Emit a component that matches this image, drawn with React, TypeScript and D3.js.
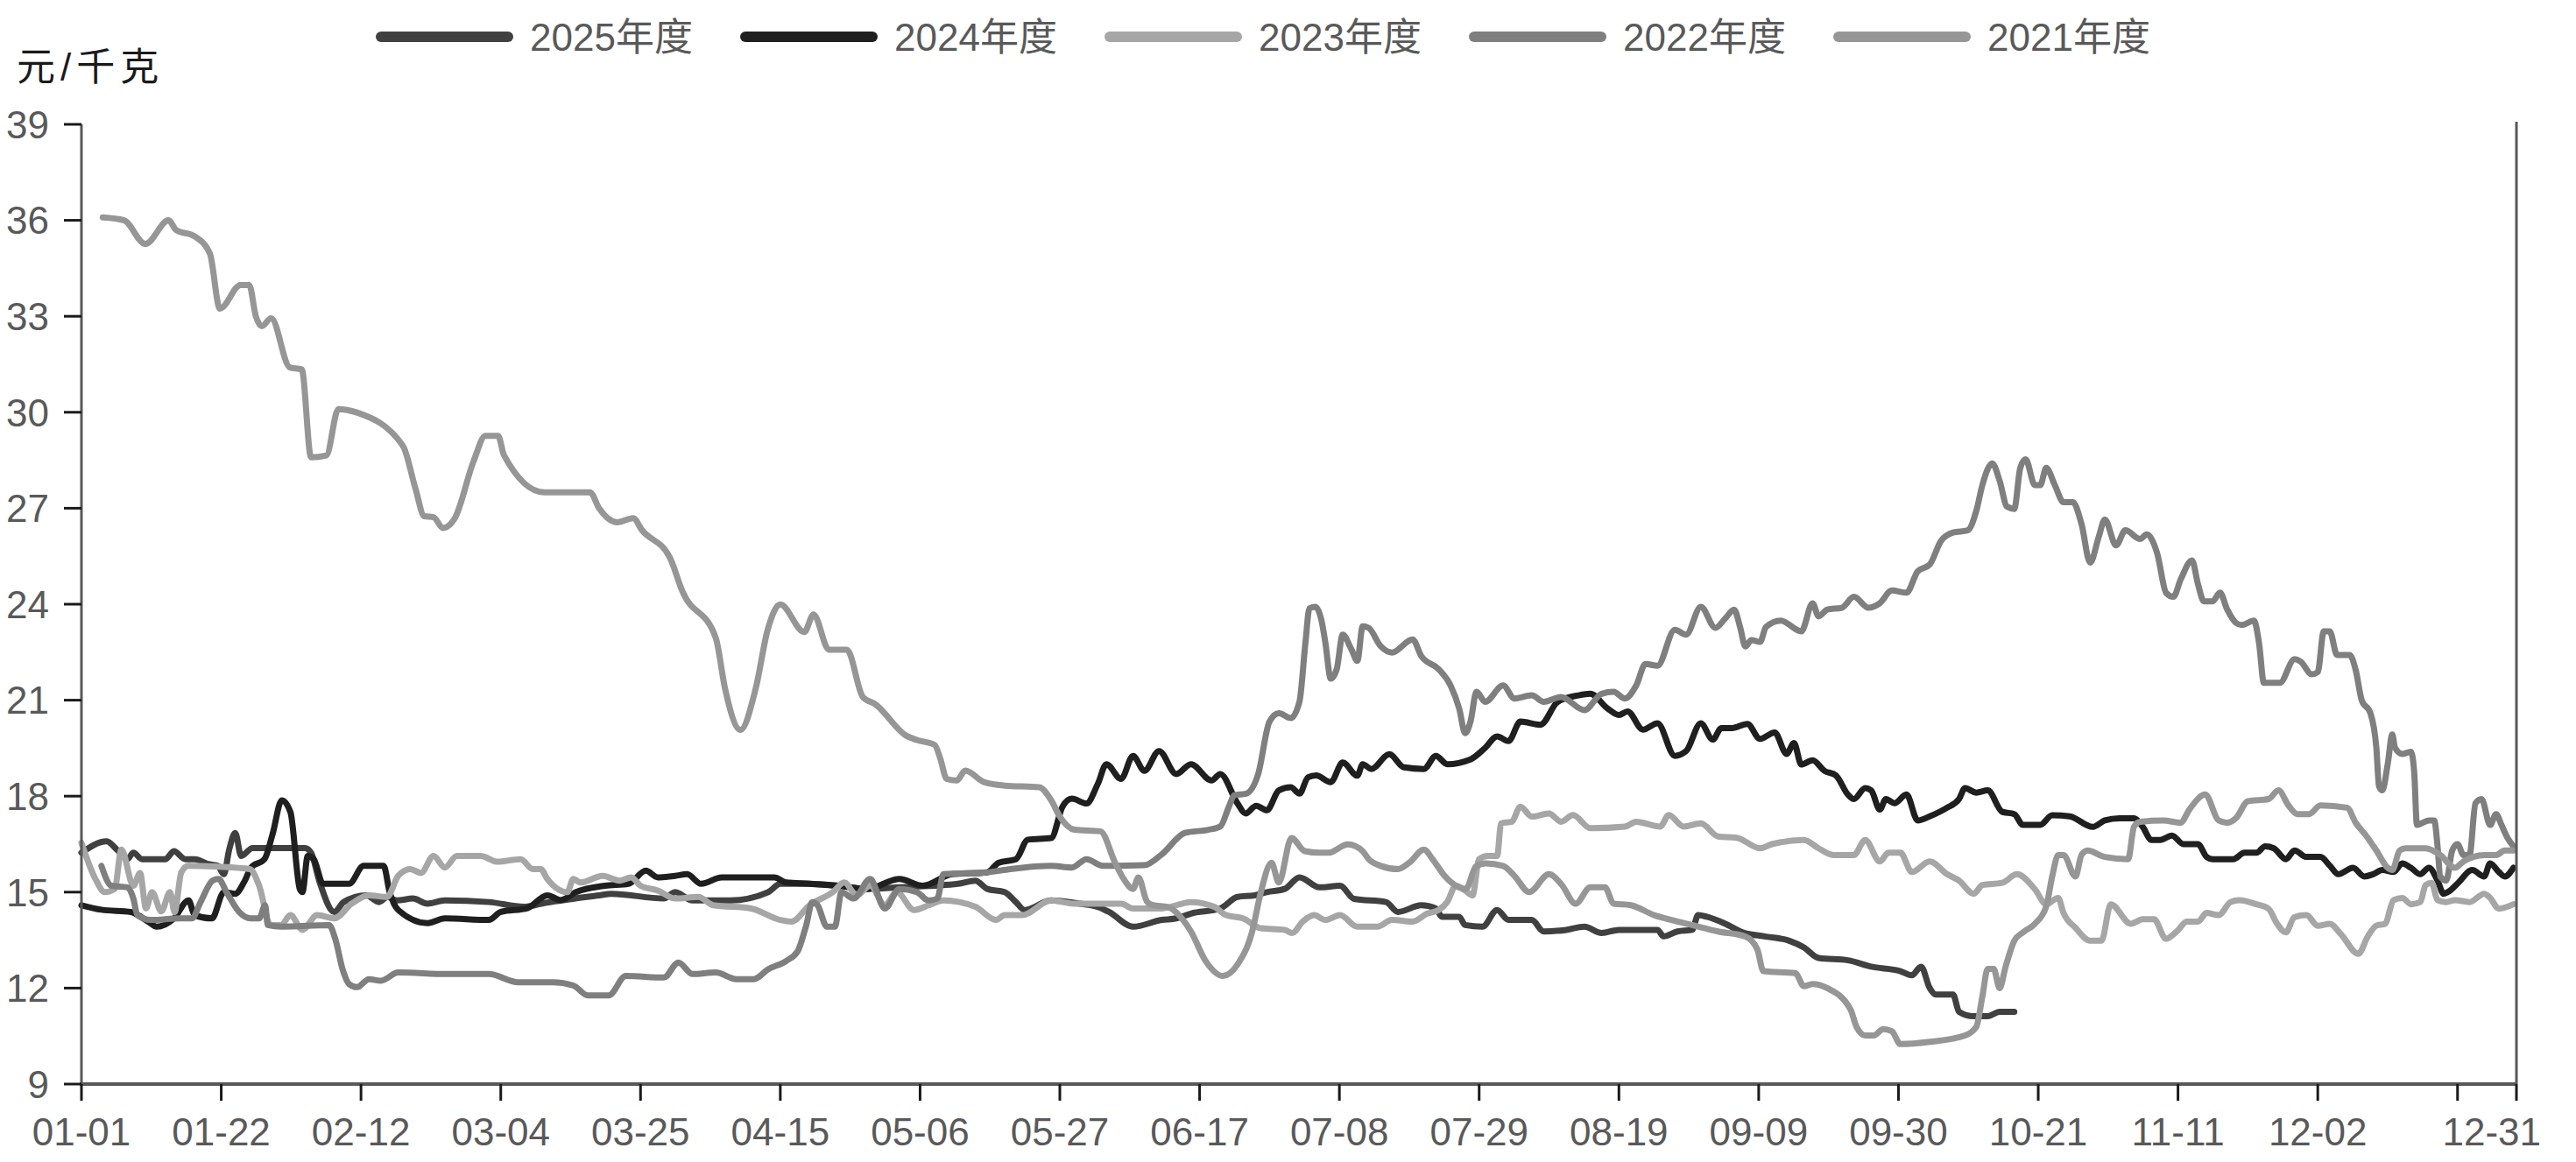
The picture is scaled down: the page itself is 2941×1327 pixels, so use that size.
import React from "react";
import * as d3 from "d3";

const W = 2941;
const H = 1327;

const seriesNames = ["2025年度", "2024年度", "2023年度", "2022年度", "2021年度"];
const seriesColors = ["#404040", "#1f1f1f", "#a6a6a6", "#7f7f7f", "#969696"];

const yTicks = [9, 12, 15, 18, 21, 24, 27, 30, 33, 36, 39];
const yTitle = "元/千克";

// [day of year (0 = 01-01), price]
const s2025: [number, number][] = [[0,16.23],[3.8,16.59],[5.3,16.33],[6.9,16.03],[7.8,16.23],[9.1,16.03],[12.6,16.03],[13.9,16.28],[15.6,16.03],[17,16.03],[19.2,15.87],[20.5,15.82],[21.4,15.56],[22.2,16.33],[23.1,16.85],[24,16.13],[25.7,16.38],[33.6,16.38],[34.5,16.23],[35.8,15.3],[38,14.38],[39.4,14.69],[42.8,14.9],[44.7,14.69],[46,14.85],[47.4,14.74],[49.8,14.8],[52,14.64],[54.6,14.74],[61.2,14.69],[66.5,14.54],[69.1,14.64],[77.8,14.9],[79.6,14.95],[87.5,14.8],[89.2,15.0],[91.8,14.74],[97.5,14.74],[103.2,15.0],[105,15.26],[109.4,15.26],[113.7,15.2],[118,15.1],[122.9,15.15],[131.7,15.26],[134.3,15.36],[136.1,15.1],[138.7,15.0],[140.4,14.69],[141.7,14.44],[145.7,14.74],[150,14.64],[152.7,14.54],[154.4,14.38],[158,13.92],[162.3,14.13],[164.5,14.18],[166.7,14.33],[171.1,14.49],[173.7,14.85],[176.3,14.9],[178.1,15.0],[180.8,15.1],[183,15.46],[186,15.15],[189.1,15.2],[191.2,14.79],[196,14.69],[197.8,14.38],[201.3,14.59],[203.5,14.49],[204.4,14.23],[207,14.23],[207.9,13.97],[210.5,13.92],[212.7,14.44],[214.4,14.13],[217.9,14.13],[219.7,13.77],[223.1,13.82],[225.8,13.92],[228.4,13.72],[231,13.82],[236.8,13.82],[237.7,13.62],[239.8,13.77],[242,13.82],[242.9,14.28],[244.2,14.23],[247,14.01],[249.6,13.74],[253.1,13.61],[256.6,13.48],[258.8,13.27],[261,12.94],[265.4,12.87],[268.9,12.67],[273.3,12.53],[275,12.4],[276.4,12.67],[277.7,12.0],[278.6,11.8],[281.2,11.8],[282.1,11.26],[284.3,11.12],[286.4,11.12],[288.2,11.26],[290.4,11.26]];

const s2024: [number, number][] = [[0,14.59],[3,14.45],[7.4,14.38],[10,14.08],[11.3,13.92],[13.9,14.18],[16.1,14.74],[17,14.28],[19.6,14.18],[21.4,15.0],[23.1,14.95],[24.4,15.3],[25.5,15.77],[27.5,16.03],[28.7,16.8],[30.1,17.87],[31.4,17.5],[32.8,15.1],[33.2,15.0],[34,16.13],[34.9,16.03],[36.3,15.26],[40.2,15.26],[42.4,15.82],[45.4,15.82],[46.3,15.0],[47.6,14.44],[52,14.03],[54.6,14.18],[61.2,14.13],[63,14.38],[67,14.5],[70,14.9],[72,14.75],[74.3,15.0],[78.7,15.2],[82.2,15.26],[84.8,15.67],[86.6,15.46],[89.2,15.51],[91,15.56],[93.1,15.26],[96.2,15.46],[104.1,15.46],[105.9,15.3],[109.4,15.26],[113.7,15.2],[118,15.1],[122.9,15.41],[126.4,15.2],[130.8,15.56],[136.1,15.62],[137.8,15.92],[140.4,16.03],[142.2,16.64],[145.7,16.69],[147.4,17.67],[148.8,17.92],[151,17.77],[152.7,18.38],[154,19.0],[156.2,18.54],[158,19.26],[159.7,18.79],[161.9,19.41],[164.5,18.69],[166.7,19.0],[169.8,18.49],[171.1,18.69],[173.7,17.77],[174.9,17.46],[176.5,17.7],[178.1,17.56],[179.9,18.18],[181.7,18.28],[183,18.08],[184.3,18.59],[185.5,18.65],[187.7,18.44],[189.5,19.05],[191.7,18.64],[192.5,19.0],[193.8,18.85],[196.5,19.31],[198.7,18.9],[201.7,18.85],[203.5,19.26],[205.2,19.0],[208.7,19.15],[210.9,19.51],[212.7,19.87],[214.4,19.72],[216.2,20.33],[219.2,20.23],[221.8,20.95],[224.9,21.15],[226.7,21.2],[229.3,20.74],[231,20.54],[232.3,20.65],[234.6,20.08],[236.8,20.28],[239.4,19.26],[241.1,19.41],[243.3,20.28],[245.1,19.77],[246.4,20.13],[248,20.13],[250.3,20.26],[252.2,19.79],[254.4,19.99],[256.2,19.32],[257.3,19.66],[258.4,18.99],[260.1,19.12],[261.9,18.79],[263.6,18.65],[265.4,18.05],[266.3,17.91],[268,18.25],[268.9,18.18],[270.2,17.58],[271.1,17.91],[272.4,17.78],[274.2,18.05],[275.9,17.24],[277.7,17.37],[280.3,17.64],[282.1,17.91],[283,18.25],[284.7,18.11],[286.4,18.18],[288.6,17.51],[290.4,17.44],[291.7,17.1],[294.3,17.1],[296.1,17.4],[298.7,17.37],[302.2,17.04],[304,17.24],[306.2,17.31],[308.4,17.31],[309.7,17.04],[311,16.63],[312.3,16.63],[314.1,16.77],[315.8,16.5],[318,16.5],[319.3,16.1],[320.2,16.03],[323.3,16.03],[325,16.23],[326.8,16.23],[328.1,16.43],[329.4,16.37],[331.2,16.03],[332.5,16.3],[334.3,16.1],[336.4,16.1],[337.8,15.83],[339.1,15.56],[341.3,15.76],[343,15.49],[344.3,15.56],[345.7,15.69],[347.4,15.63],[348.7,15.9],[350,15.76],[351.4,15.56],[352.7,15.76],[354,15.36],[354.9,14.95],[355.7,15.02],[357.1,15.29],[359.2,15.69],[361,15.49],[361.9,15.9],[363.2,15.63],[364.1,15.49],[365.4,15.76]];

const s2023: [number, number][] = [[0,16.54],[2.1,15.41],[3.5,15.0],[5,15.1],[6,16.33],[7.8,15.2],[8.8,15.6],[9.7,14.49],[10.6,15.0],[12,14.4],[13.3,15.0],[14,14.38],[15,15.62],[16.1,15.82],[20,15.8],[25.3,15.72],[26.7,15.2],[28.4,13.97],[30,13.97],[31.4,14.28],[33.2,13.82],[35.4,14.28],[38,14.18],[40.6,14.64],[43.2,14.9],[45.9,14.85],[47.6,15.51],[49.4,15.72],[51,15.6],[52.9,16.13],[54.6,15.77],[56.4,16.13],[60,16.13],[62.5,15.95],[66,16.03],[67.8,15.72],[69,15.72],[70,15.41],[73,15.0],[73.9,15.41],[75,15.3],[78.3,15.51],[80.9,15.36],[82.6,15.46],[84,15.2],[86.6,15.05],[89.2,14.8],[92.7,14.85],[94.9,14.59],[100.6,14.49],[105,14.13],[106.7,14.08],[109.4,14.59],[112.9,15.0],[114.6,15.3],[116.5,14.9],[118.5,15.2],[120.7,14.6],[122.5,15.0],[125.1,14.44],[127.3,14.59],[129.5,14.74],[134.3,14.54],[137.4,14.13],[138.7,14.28],[141.3,14.28],[145.7,14.74],[149.2,14.64],[156.2,14.64],[158,14.49],[162.3,14.49],[166.7,14.69],[170.2,14.54],[172,14.28],[174.5,14.18],[177.2,13.87],[180.8,13.82],[181.9,13.72],[183.5,14.08],[185.2,14.28],[186.9,14.13],[189.1,14.28],[191.7,13.92],[194.7,13.92],[196.9,14.13],[200,14.08],[202.2,14.33],[203.9,14.44],[205.2,14.69],[206.5,15.2],[207.9,15.05],[209,14.9],[210,16.03],[211.3,16.13],[212.7,16.13],[213.3,17.15],[214.9,17.2],[216.2,17.67],[217.9,17.36],[220.5,17.46],[222.3,17.2],[224.1,17.41],[226.7,17.0],[231.9,17.05],[233.6,17.2],[237.2,17.05],[238.5,17.41],[240.7,17.05],[243.3,17.15],[245.9,16.74],[248.7,16.7],[252.2,16.37],[254,16.5],[258.8,16.63],[261,16.37],[263.2,16.16],[266.3,16.16],[268,16.63],[270.2,15.96],[271.5,16.23],[273.3,16.23],[275,15.63],[277.7,15.96],[280.3,15.56],[282.1,15.36],[284.3,14.95],[285.6,15.22],[288.6,15.29],[290.8,15.56],[293.5,15.09],[295.2,14.62],[297,14.82],[297.8,14.35],[299.6,13.88],[301.8,13.48],[303.5,13.48],[304.9,14.62],[307.9,14.01],[309.7,14.15],[311.4,14.15],[313.2,13.54],[315,13.81],[316.3,14.08],[318,14.08],[319.3,14.35],[321.1,14.28],[322.9,14.69],[324.2,14.75],[326.8,14.62],[328.6,14.48],[329.9,14.01],[331.2,13.74],[332.5,14.22],[334.3,14.28],[336,13.95],[337.8,14.01],[339.5,13.68],[342.1,13.07],[343.5,13.61],[344.8,13.95],[346.1,14.01],[347.4,14.75],[348.7,14.82],[350,14.62],[351.4,14.69],[352.2,15.22],[353.1,15.29],[354,14.75],[355.3,14.69],[356.6,14.75],[358.8,14.69],[361,14.95],[361.9,14.82],[363.2,14.48],[365.4,14.62]];

const s2022: [number, number][] = [[3,15.82],[4.5,15.2],[6.9,15.15],[7.8,14.8],[8.4,14.28],[10.4,14.13],[14.8,14.18],[16.6,14.18],[17.9,14.69],[19.7,15.36],[20.6,15.41],[21.8,15.0],[23.7,14.38],[25.4,14.18],[26.7,14.18],[27.6,14.59],[28,13.97],[30.1,13.92],[37.2,13.97],[38.1,13.56],[39.3,12.54],[40.2,12.13],[41.4,12.03],[43.2,12.28],[45,12.23],[47.6,12.49],[55,12.44],[61.2,12.44],[65.6,12.18],[70.8,12.18],[73.9,12.08],[76.1,11.77],[79.2,11.77],[81.8,12.38],[87.5,12.33],[89.7,12.8],[91.8,12.44],[95.3,12.49],[98.4,12.28],[101,12.28],[103.2,12.59],[105.9,12.85],[107.6,13.15],[108.9,13.97],[109.8,14.69],[110.6,14.59],[112,13.92],[113.2,13.92],[114.2,15.0],[116,14.8],[118.5,15.41],[120.7,14.49],[122.9,15.1],[125.5,15.0],[127.3,14.74],[128.6,14.8],[129.5,15.56],[136.1,15.62],[139.6,15.72],[145.7,15.82],[148.8,15.77],[151,16.03],[153.5,15.82],[159.7,15.84],[162.3,16.18],[165.8,16.85],[169.3,16.95],[171.1,17.05],[172.4,17.67],[173.2,18.03],[175,18.08],[176.8,18.69],[178.5,20.33],[179.9,20.59],[181.7,20.44],[183,20.95],[183.9,22.8],[184.5,23.87],[185.4,23.92],[186.3,23.5],[186.9,22.79],[187.7,21.67],[188.6,21.97],[189.5,23.05],[190.8,22.59],[191.7,22.23],[192.5,23.31],[193.4,23.26],[195.2,22.69],[196.9,22.49],[200,22.9],[201.3,22.38],[203.9,21.97],[205.7,21.46],[207,20.74],[207.9,19.97],[208.7,20.33],[209.6,21.26],[210.9,20.95],[213.6,21.46],[215.3,21.05],[217.9,21.15],[219.7,20.95],[222.3,21.1],[225.8,20.69],[228.4,21.2],[230.2,21.26],[231.9,21.05],[233.6,21.46],[235,22.13],[236.8,22.08],[239.4,23.2],[241.1,23.05],[243.3,23.92],[245.5,23.26],[247,23.56],[248.3,23.83],[249.2,23.29],[250,22.68],[250.9,22.88],[252.2,22.82],[253.1,23.29],[255.3,23.49],[258.4,23.15],[260.1,24.03],[261,23.62],[262.3,23.83],[264.5,23.89],[266.3,24.23],[268.5,23.89],[270.2,24.03],[272,24.43],[274.2,24.36],[275.9,25.03],[277.7,25.24],[279.4,25.98],[281.2,26.24],[283.4,26.31],[284.7,26.92],[285.6,27.72],[287.1,28.4],[288.2,27.86],[289.3,27.05],[290.4,26.98],[291.3,28.26],[292.1,28.53],[293.5,27.72],[294.3,27.72],[295.2,28.26],[296.5,27.72],[297.8,27.19],[299.2,27.19],[300.5,26.51],[301.8,25.3],[303.1,26.11],[304,26.65],[305.7,25.84],[307.1,26.31],[309.3,26.04],[310.3,26.18],[311.9,25.57],[313.2,24.36],[314.3,24.23],[315.4,24.77],[317.1,25.37],[318,24.63],[318.9,24.09],[320.2,24.09],[321.3,24.36],[322.4,23.83],[323.7,23.42],[324.6,23.35],[326.4,23.49],[327.2,22.75],[327.9,21.54],[330.3,21.54],[332.5,22.28],[333.4,22.21],[335.1,21.81],[336,21.88],[336.9,23.15],[337.8,23.15],[338.9,22.41],[340.8,22.41],[341.7,21.94],[342.6,21.0],[343.9,20.6],[344.8,19.52],[345.2,18.31],[345.7,18.18],[346.5,18.99],[347.2,19.93],[347.6,19.52],[348.7,19.32],[350,19.39],[350.5,18.72],[350.9,17.1],[352.7,17.24],[353.5,17.24],[354,16.43],[354.4,15.49],[355.3,15.36],[356.2,16.3],[357,16.5],[357.9,16.16],[358.8,16.16],[359.7,17.78],[360.6,17.91],[361.9,17.1],[362.8,17.44],[363.6,17.1],[364.5,16.7],[365.4,16.43]];

const s2021: [number, number][] = [[3.2,36.09],[6.4,36.0],[9.6,35.26],[13.1,36.0],[14.2,35.7],[17,35.5],[19.3,34.96],[20.8,33.24],[23.9,33.98],[25.2,33.98],[26.2,33.0],[27.1,32.69],[28.5,32.94],[31.3,31.4],[33.1,31.34],[34.5,28.59],[36.8,28.65],[38.6,30.1],[41.4,29.99],[48.3,28.95],[50.2,27.6],[51.5,26.75],[52.9,26.72],[54.3,26.38],[56.1,26.69],[58.9,28.46],[60.7,29.26],[62.6,29.26],[63.5,28.65],[69.5,27.5],[76.4,27.5],[77.8,26.99],[80.5,26.56],[82.9,26.69],[84.2,26.32],[88.4,25.46],[90.3,24.4],[95.3,22.95],[96.7,21.36],[99,20.07],[101.3,21.36],[103.1,23.2],[105,23.99],[108.6,23.13],[110,23.68],[112.3,22.58],[115,22.58],[117.4,21.1],[119.3,20.87],[123.9,19.89],[125.6,19.75],[128.2,19.6],[129,19.2],[130,18.54],[131.5,18.49],[132.8,18.8],[135.6,18.44],[138.7,18.33],[143.9,18.28],[145.7,17.87],[147,17.36],[149.2,16.95],[153.1,16.9],[155.3,15.92],[156.6,15.41],[158,15.1],[158.8,15.46],[160.1,14.7],[161,14.59],[163.2,14.54],[164.9,14.28],[166.7,13.77],[168.9,12.85],[171.5,12.38],[173.7,12.74],[175.9,13.77],[177.2,15.0],[178.8,15.92],[179.9,15.3],[181.8,16.69],[183.8,16.28],[186,16.23],[187.3,16.23],[190.3,16.49],[192.5,16.28],[193.4,16.03],[195.2,15.82],[197.8,15.72],[199.5,15.92],[201.7,16.33],[203,16.03],[204.8,15.51],[206.5,15.2],[208,15.1],[209.5,15.8],[211,15.9],[213.6,15.82],[215.3,15.51],[217.5,15.0],[220.5,15.56],[222.3,15.26],[224.5,14.64],[226.7,15.15],[228.9,15.15],[230.2,14.64],[232.8,14.59],[236.3,14.28],[238.9,14.13],[242,13.97],[245.9,13.77],[250,13.61],[251.8,13.21],[252.7,12.53],[257.5,12.47],[258.8,12.06],[260.1,12.13],[262.3,12.0],[265.8,11.33],[266.7,10.79],[268,10.52],[269.3,10.52],[270.7,10.72],[272,10.65],[273.3,10.25],[277.7,10.32],[283,10.52],[284.7,10.79],[285.6,11.73],[286.4,12.6],[287.3,12.6],[288.2,12.0],[289.1,12.67],[290.4,13.48],[291.7,13.74],[293.5,14.01],[295.2,14.55],[296.1,15.49],[297,16.16],[297.8,16.16],[299.6,15.49],[300.5,16.16],[301.4,16.3],[304,16.1],[307.5,16.03],[308.4,17.05],[309.3,17.2],[312.8,17.24],[315.4,17.17],[316.7,17.58],[319.1,18.05],[321.1,17.24],[322.4,17.17],[323.7,17.31],[325.5,17.84],[328.6,17.91],[330.1,18.18],[331.6,17.71],[332.9,17.44],[334.7,17.44],[336.4,17.71],[340.4,17.64],[341.7,17.17],[343.5,16.7],[344.8,16.3],[346.5,15.76],[347.2,15.69],[348.3,16.3],[349.2,16.37],[352.2,16.37],[354.4,16.16],[356.6,15.76],[357.9,15.96],[361,16.16],[362.8,16.16],[364.1,16.3],[365.4,16.3]];

const seriesData = [s2025, s2024, s2023, s2022, s2021];

const baseDate = new Date(2024, 0, 1);
const lastDay = 365.85;
const xTickDays = [...d3.range(0, 358, 21), lastDay];
const fmt = d3.timeFormat("%m-%d");
const tickLabel = (d: number, i: number) =>
  i === xTickDays.length - 2 ? "" : fmt(d3.timeDay.offset(baseDate, Math.floor(d)));

const LEFT = 93;
const RIGHT = 2873;
const TOP = 142;
const BOTTOM = 1238;

const latin = "'Liberation Sans', Arial, sans-serif";
const cjk = "'Liberation Sans', 'Noto Sans CJK SC', sans-serif";

export default function App() {
  const x = d3.scaleLinear().domain([0, lastDay]).range([LEFT, RIGHT]);
  const y = d3.scaleLinear().domain([9, 39]).range([BOTTOM, TOP]);
  const line = d3
    .line<[number, number]>()
    .x((d) => x(d[0]))
    .y((d) => y(d[1]))
    .curve(d3.curveMonotoneX);

  return (
    <svg width={W} height={H} style={{ display: "block", position: "absolute", left: 0, top: 0, background: "#fff" }}>
      <rect x={0} y={0} width={W} height={H} fill="#fff" />
      {/* y title */}
      <text x={19} y={92} fontFamily={cjk} fontSize={44} fill="#1a1a1a" letterSpacing={6}>
        {yTitle}
      </text>
      {/* legend */}
      {seriesNames.map((name, i) => {
        const lx = 429 + i * 416;
        return (
          <g key={name}>
            <line x1={lx + 6} x2={lx + 151} y1={42} y2={42} stroke={seriesColors[i]} strokeWidth={12} strokeLinecap="round" />
            <text x={lx + 176} y={58} fontFamily={cjk} fontSize={44} fill="#595959">
              {name}
            </text>
          </g>
        );
      })}
      {/* series */}
      {seriesData.map((s, i) => (
        <path
          key={seriesNames[i]}
          d={line(s) || ""}
          fill="none"
          stroke={seriesColors[i]}
          strokeWidth={7}
          strokeLinejoin="round"
          strokeLinecap="round"
        />
      ))}
      {/* axes */}
      <line x1={LEFT} x2={LEFT} y1={TOP} y2={BOTTOM} stroke="#595959" strokeWidth={3} />
      <line x1={RIGHT} x2={RIGHT} y1={TOP - 3} y2={BOTTOM} stroke="#595959" strokeWidth={3} />
      <line x1={LEFT - 2} x2={RIGHT + 1} y1={BOTTOM} y2={BOTTOM} stroke="#595959" strokeWidth={4} />
      {yTicks.map((t) => (
        <g key={t}>
          <line x1={LEFT - 20} x2={LEFT} y1={y(t)} y2={y(t)} stroke="#1a1a1a" strokeWidth={3} />
          <text x={56} y={y(t)} dy="0.36em" textAnchor="end" fontFamily={latin} fontSize={44} fill="#595959">
            {t}
          </text>
        </g>
      ))}
      {xTickDays.map((d, i) => (
        <g key={d}>
          <line x1={x(d)} x2={x(d)} y1={BOTTOM} y2={BOTTOM + 19} stroke="#1a1a1a" strokeWidth={3} />
          <text x={x(d)} y={1308} textAnchor={i === xTickDays.length - 1 ? "end" : "middle"} dx={i === xTickDays.length - 1 ? 28 : 0} fontFamily={latin} fontSize={44} fill="#595959">
            {tickLabel(d, i)}
          </text>
        </g>
      ))}
    </svg>
  );
}
